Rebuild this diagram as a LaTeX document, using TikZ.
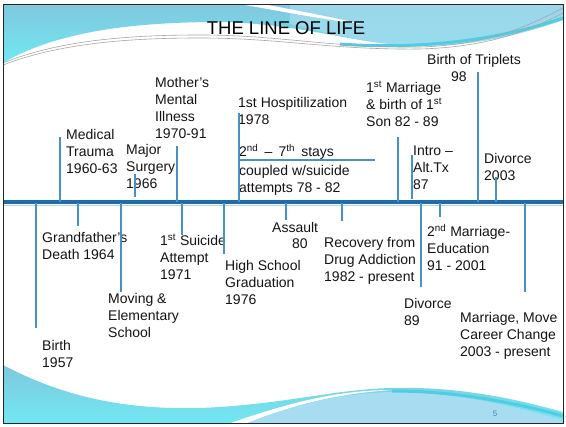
\documentclass[tikz,border=0pt]{standalone}
\usepackage{fontspec}
\setmainfont{Liberation Sans}
\definecolor{topA}{RGB}{128,200,222}
\definecolor{topB}{RGB}{112,232,242}
\definecolor{lightblue}{RGB}{168,220,240}
\definecolor{cyanband}{RGB}{80,205,226}
\definecolor{axisblue}{RGB}{30,108,168}
\definecolor{tickblue}{RGB}{70,145,200}
\definecolor{txt}{RGB}{20,20,20}
\definecolor{pagenum}{RGB}{60,140,175}
\begin{document}
\begin{tikzpicture}[x=1pt,y=-1pt,
  lbl/.style={anchor=north west, inner sep=0pt, align=left, font=\fontsize{14}{17}\selectfont, text=txt},
  tickline/.style={draw=tickblue, line width=1.3pt},
  grayline/.style={draw=gray!70, line width=0.6pt}]
\useasboundingbox (0,0) rectangle (566,427);
\fill[white] (0,0) rectangle (566,427);
% ---- top decoration
\shade[top color=topA, bottom color=topB] (3,5) -- (563,5) -- (563,20) .. controls (500,42) and (450,48) .. (400,45) .. controls (340,40) and (300,24) .. (220,22) .. controls (120,22) and (50,35) .. (3,63) -- cycle;
\fill[lightblue, opacity=0.7] (290,5) -- (563,5) -- (563,20) .. controls (500,42) and (450,48) .. (400,45) .. controls (350,41) and (320,30) .. (290,24) -- cycle;
\fill[white] (245,5) -- (268,5) .. controls (300,11) and (330,17) .. (362,24) .. controls (320,19) and (285,12) .. (245,5) -- cycle;
\draw[cyanband, line width=3pt] (340,44) .. controls (420,50) and (500,40) .. (563,18);
\draw[grayline] (3,63) .. controls (60,40) and (130,35) .. (200,35) .. controls (280,35) and (330,48) .. (420,47) .. controls (490,45) and (530,25) .. (563,8);
\draw[grayline] (3,65) .. controls (60,43) and (130,38) .. (200,38) .. controls (280,38) and (330,50) .. (420,49) .. controls (490,47) and (530,30) .. (563,13);
% ---- bottom decoration
\shade[top color=topA, bottom color=topB] (3,365) .. controls (60,395) and (120,410) .. (200,408) .. controls (280,405) and (330,390) .. (390,388) .. controls (460,386) and (520,400) .. (563,412) -- (563,424) -- (3,424) -- cycle;
\fill[white] (228,424) .. controls (290,402) and (340,390) .. (392,390) .. controls (330,394) and (285,408) .. (245,424) -- cycle;
\fill[lightblue] (245,424) .. controls (290,406) and (340,393) .. (392,392) .. controls (460,392) and (520,408) .. (563,420) -- (563,424) -- cycle;
\draw[cyanband, line width=3pt] (392,391) .. controls (460,391) and (520,404) .. (563,416);
\node[font=\fontsize{8}{9}\selectfont, text=pagenum] (pg) at (495,414) {5};
% ---- title
\node[font=\fontsize{18.5}{22}\selectfont, text=black] (title) at (286,28) {THE LINE OF LIFE};
% ---- axis
\coordinate (axL) at (3,202);
\coordinate (axR) at (563,202);
\draw[axisblue, line width=3.5pt] (axL) -- (axR);
\draw[tickblue!40, line width=0.8pt] (3,205) -- (563,205);
% ---- above labels
\node[lbl] (medical) at (66,129) {Medical\\Trauma\\1960-63};
\node[lbl] (major) at (126,144) {Major\\Surgery\\1966};
\node[lbl] (mother) at (155,77) {Mother’s\\Mental\\Illness\\1970-91};
\node[lbl] (hosp) at (238,97) {1st Hospitilization\\1978};
\node[lbl] (stays) at (239,144) {2\textsuperscript{nd} \,--\, 7\textsuperscript{th}\, stays};
\node[lbl] (coupled) at (239,165) {coupled w/suicide\\attempts 78 - 82};
\node[lbl] (marr1) at (366,81) {1\textsuperscript{st} Marriage\\\& birth of 1\textsuperscript{st}\\Son 82 - 89};
\node[lbl] (intro) at (413,146) {Intro --\\Alt.Tx\\87};
\node[lbl] (triplets) at (427,54) {Birth of Triplets};
\node[lbl] (ninetyeight) at (451,72) {98};
\node[lbl] (div03) at (484,153) {Divorce\\2003};
% ---- below labels
\node[lbl] (birth) at (42,340) {Birth\\1957};
\node[lbl] (grand) at (42,232) {Grandfather’s\\Death 1964};
\node[lbl] (moving) at (108,293) {Moving \&\\Elementary\\School};
\node[lbl] (suicide) at (160,234) {1\textsuperscript{st} Suicide\\Attempt\\1971};
\node[lbl] (hs) at (225,260) {High School\\Graduation\\1976};
\node[lbl] (assault) at (272,222) {Assault};
\node[lbl] (eighty) at (292,239) {80};
\node[lbl] (recov) at (324,237) {Recovery from\\Drug Addiction\\1982 - present};
\node[lbl] (div89) at (404,298) {Divorce\\89};
\node[lbl] (marr2) at (427,224) {2\textsuperscript{nd} Marriage-\\Education\\91 - 2001};
\node[lbl] (marr3) at (460,312) {Marriage, Move\\Career Change\\2003 - present};
% ---- stays line
\coordinate (sL) at (239,160);
\coordinate (sR) at (375,160);
\draw[tickline] (sL) -- (sR);
% ---- ticks above
\foreach \n/\x/\ya/\yb in {tA/60/137/202, tB/135/174/197, tC/177/146/202, tD/239/113/202, tE/398/137/202, tF/412/155/199, tG/478/72/202, tH/496/177/202}{
  \coordinate (\n1) at (\x,\ya);
  \coordinate (\n2) at (\x,\yb);
  \draw[tickline] (\n1) -- (\n2);
}
% ---- ticks below
\foreach \n/\x/\yb in {bA/36/328, bB/78/226, bC/121/292, bD/182/235, bE/224/254, bF/286/220, bG/342/221, bH/421/287, bI/440/217, bJ/525/292}{
  \coordinate (\n1) at (\x,203);
  \coordinate (\n2) at (\x,\yb);
  \draw[tickline] (\n1) -- (\n2);
}
% ---- frame
\draw[black!85, line width=1pt] (3,5) rectangle (563,424);
\end{tikzpicture}
\end{document}
